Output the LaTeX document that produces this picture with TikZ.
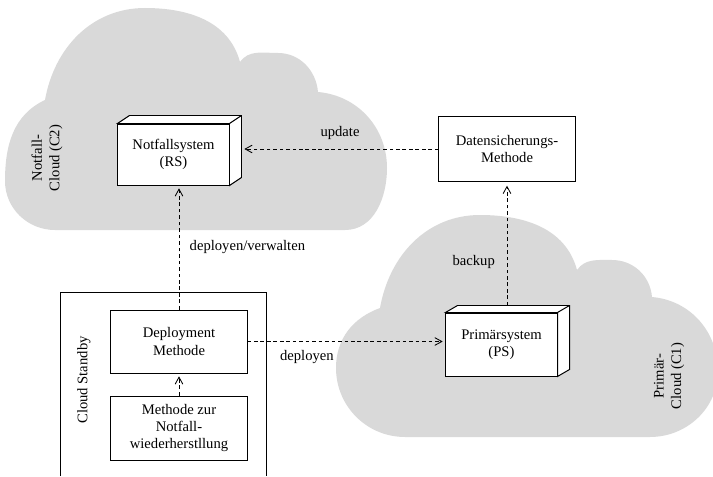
\documentclass[tikz,border=0pt]{standalone}
\usepackage{fontspec}
\setmainfont{Liberation Serif}
\usetikzlibrary{arrows.meta}

\begin{document}
\begin{tikzpicture}[x=0.025cm,y=0.025cm,
        every node/.style={font=\fontsize{10.4}{12.4}\selectfont,align=center},
        cloud/.style={fill=black!15,draw=none},
        box/.style={draw,line width=0.7pt,fill=white,inner sep=0pt},
        link/.style={dashed,dash pattern=on 2.6pt off 2pt,line width=0.6pt,
            -{Straight Barb[length=5pt,width=5.5pt]}}]
        \useasboundingbox (0,0) rectangle (713,476);
        \clip (0,0) rectangle (713,476);

        % clouds
        \fill[cloud] (55,246) to[out=180,in=270] (5,295) to[out=90,in=205] (45,376)
            to[out=80,in=180] (145,468) to[out=0,in=105] (240,414)
            to[out=55,in=180] (278,423) to[out=0,in=95] (318,384)
            to[out=-5,in=90] (387,308) to[out=270,in=0] (345,246) -- cycle;
        \fill[cloud] (405,39) to[out=180,in=270] (336,108) to[out=90,in=200] (380,168)
            to[out=80,in=180] (480,261) to[out=0,in=105] (577,206)
            to[out=55,in=180] (612,216) to[out=0,in=95] (652,179)
            to[out=-5,in=90] (718,105) to[out=270,in=0] (650,39) -- cycle;

        \node[rotate=90] at (47,318) (c2) {Notfall-\\Cloud (C2)};
        \node[rotate=90] at (669,100) (c1) {Primär-\\Cloud (C1)};

        % cloud standby
        \draw[line width=0.7pt] (60,0) |- (266,184) -- (266,0);
        \node[rotate=90] at (84,96) (cs) {Cloud Standby};

        \node[box,minimum width=3.4cm,minimum height=1.575cm] at (179,134.5) (dm) {Deployment\\Methode};
        \node[box,minimum width=3.4cm,minimum height=1.6cm] at (179,48) (mz) {Methode zur\\Notfall-\\wiederherstllung};
        \node[box,minimum width=3.4cm,minimum height=1.6cm] at (507,327) (ds) {Datensicherungs-\\Methode};

        \node[box,minimum width=2.775cm,minimum height=1.525cm] at (173.5,321.5) (ns) {Notfallsystem\\(RS)};
        \draw[line width=0.7pt,fill=white] (ns.north west) -- ++(12,8) -- ([shift={(12,8)}]ns.north east)
            -- ([shift={(12,8)}]ns.south east) -- (ns.south east) -- (ns.north east) -- cycle;
        \draw[line width=0.7pt] (ns.north east) -- ++(12,8);
        \coordinate (nsback) at ([shift={(12,8)}]ns.east);

        \node[box,minimum width=2.775cm,minimum height=1.575cm] at (501.5,131.5) (ps) {Primärsystem\\(PS)};
        \draw[line width=0.7pt,fill=white] (ps.north west) -- ++(12,7) -- ([shift={(12,7)}]ps.north east)
            -- ([shift={(12,7)}]ps.south east) -- (ps.south east) -- (ps.north east) -- cycle;
        \draw[line width=0.7pt] (ps.north east) -- ++(12,7);
        \coordinate (psback) at ([shift={(12,7)}]ps.north);

        % connectors
        \draw[link,shorten >=2pt] (ds.west) -- (ds.west -| nsback)
            node[pos=0.5,above=3pt] (up) {update};
        \draw[link,shorten >=2pt] (dm.north) -- (dm.north |- ns.south)
            node[pos=0.5,right=4pt] (dv) {deployen/verwalten};
        \draw[link,shorten >=2pt] (mz.north) -- (dm.south);
        \draw[link,shorten >=2pt] (dm.east) -- (dm.east -| ps.west)
            node[pos=0.3,below=3pt] (dp) {deployen};
        \draw[link,shorten >=3pt] (ds.south |- psback) -- (ds.south)
            node[pos=0.35,left=5pt] (bk) {backup};
    \end{tikzpicture}
\end{document}
